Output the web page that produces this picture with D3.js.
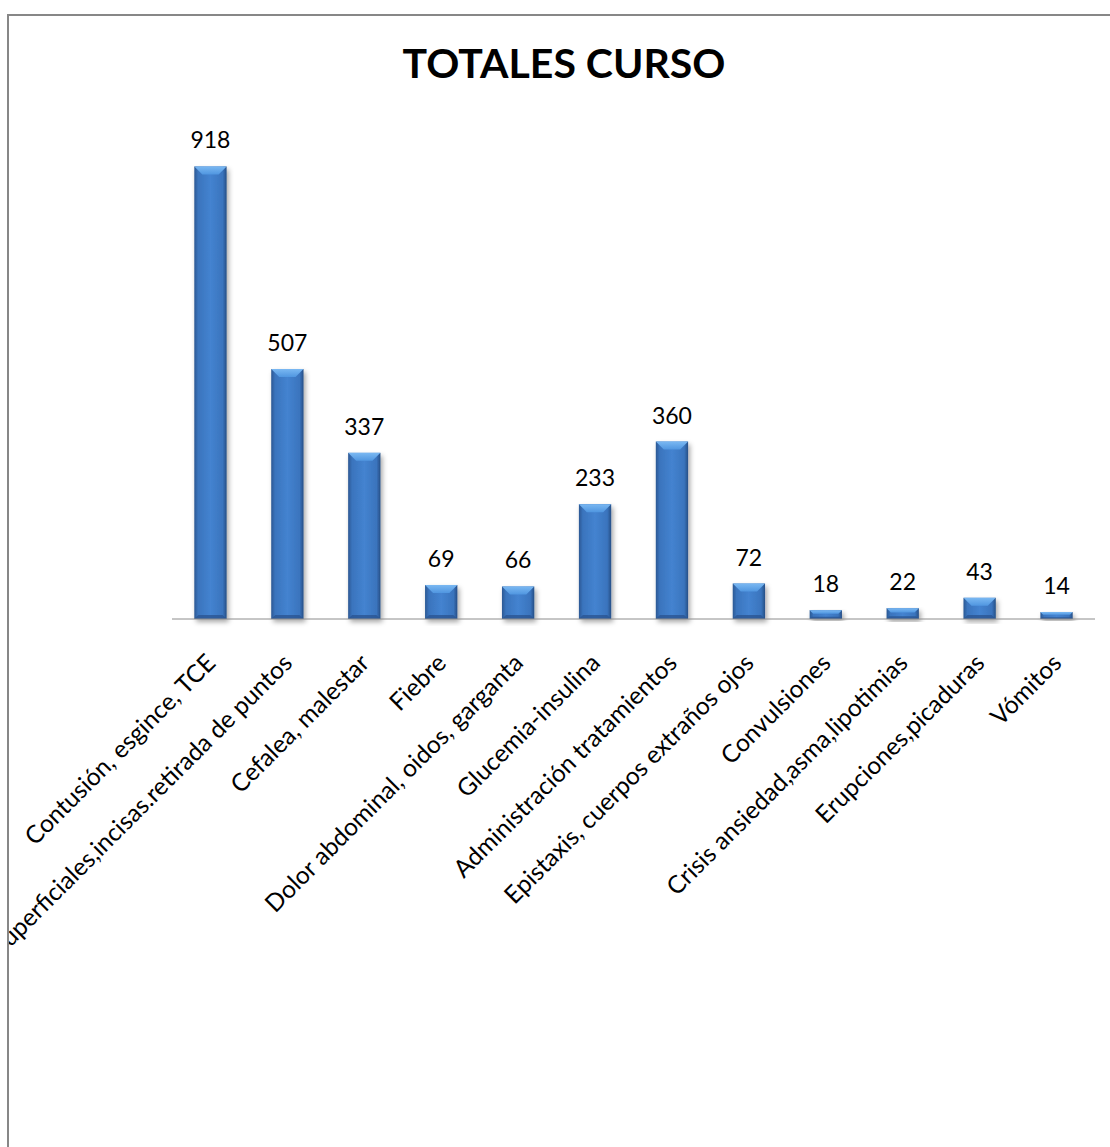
<!DOCTYPE html>
<html>
<head>
<meta charset="utf-8">
<script src="https://cdn.jsdelivr.net/npm/d3@7"></script>
<style>
  html, body { margin: 0; padding: 0; background: #fff; }
  svg { display: block; }
</style>
</head>
<body>
<svg id="chart"></svg>
<script>
// Data
const CATEGORIES = [
  'Contusión, esgince, TCE',
  'Heridas superficiales,incisas.retirada de puntos',
  'Cefalea, malestar',
  'Fiebre',
  'Dolor abdominal, oidos, garganta',
  'Glucemia-insulina',
  'Administración tratamientos',
  'Epistaxis, cuerpos extraños ojos',
  'Convulsiones',
  'Crisis ansiedad,asma,lipotimias',
  'Erupciones,picaduras',
  'Vómitos'
];
const VALUES = [918, 507, 337, 69, 66, 233, 360, 72, 18, 22, 43, 14];
const TITLE = 'TOTALES CURSO';

const W = 1110, H = 1147;
const FONT = 'Lato, "Open Sans", sans-serif';

const svg = d3.select('#chart').attr('width', W).attr('height', H);
const defs = svg.append('defs');

// frame clip
defs.append('clipPath').attr('id', 'frameClip')
  .append('rect').attr('x', 9).attr('y', 16).attr('width', W).attr('height', H);

// bar body gradient (left-right shading)
const body = defs.append('linearGradient').attr('id', 'barBody')
  .attr('x1', '0%').attr('x2', '100%').attr('y1', '0%').attr('y2', '0%');
[['0%', '#2b5893'], ['12%', '#3a74bd'], ['50%', '#4483d0'], ['88%', '#3a74bd'], ['100%', '#264f86']]
  .forEach(([o, c]) => body.append('stop').attr('offset', o).attr('stop-color', c));

const topG = defs.append('linearGradient').attr('id', 'barTop')
  .attr('x1', '0%').attr('x2', '0%').attr('y1', '0%').attr('y2', '100%');
[['0%', '#7ab8f2'], ['100%', '#5096e0']]
  .forEach(([o, c]) => topG.append('stop').attr('offset', o).attr('stop-color', c));

const shadow = defs.append('filter').attr('id', 'shadow')
  .attr('x', '-30%').attr('y', '-10%').attr('width', '160%').attr('height', '130%');
shadow.append('feDropShadow').attr('dx', 2).attr('dy', 3).attr('stdDeviation', 2.5)
  .attr('flood-color', '#000').attr('flood-opacity', 0.35);

// frame
svg.append('rect')
  .attr('x', 8).attr('y', 15).attr('width', W).attr('height', H)
  .attr('fill', '#fff').attr('stroke', '#878787').attr('stroke-width', 2);

const root = svg.append('g').attr('clip-path', 'url(#frameClip)');

// title
root.append('text')
  .attr('x', 564).attr('y', 78)
  .attr('text-anchor', 'middle')
  .attr('font-family', FONT).attr('font-weight', 'bold').attr('font-size', 41)
  .attr('fill', '#000')
  .text(TITLE);

// scales
const x = d3.scaleBand().domain(CATEGORIES).range([172, 1095])
  .paddingInner(0.58).paddingOuter(0.29);
const y = d3.scaleLinear().domain([0, 1000]).range([619, 126]);

// bars
const bars = root.append('g').selectAll('g.bar')
  .data(CATEGORIES.map((c, i) => ({ cat: c, val: VALUES[i] })))
  .join('g').attr('class', 'bar');

bars.append('rect')
  .attr('x', d => x(d.cat)).attr('y', d => y(d.val))
  .attr('width', x.bandwidth()).attr('height', d => y(0) - y(d.val))
  .attr('fill', 'url(#barBody)')
  .attr('filter', 'url(#shadow)');

// top bevel
bars.append('path')
  .attr('fill', 'url(#barTop)')
  .attr('d', d => {
    const x0 = x(d.cat), w = x.bandwidth(), t = y(d.val);
    const b = Math.min(8, (y(0) - t) * 0.4);
    return `M${x0},${t}L${x0 + w},${t}L${x0 + w - b},${t + b}L${x0 + b},${t + b}Z`;
  });

// bottom bevel
bars.append('path')
  .attr('fill', '#2a5592').attr('opacity', 0.8)
  .attr('d', d => {
    const x0 = x(d.cat), w = x.bandwidth(), t = y(d.val), base = y(0);
    const b = Math.min(4, (base - t) * 0.25);
    return `M${x0},${base}L${x0 + w},${base}L${x0 + w - b},${base - b}L${x0 + b},${base - b}Z`;
  });

// baseline
root.append('line')
  .attr('x1', 172).attr('x2', 1095).attr('y1', y(0)).attr('y2', y(0))
  .attr('stroke', '#8c8c8c').attr('stroke-width', 1);

// value labels
bars.append('text')
  .attr('x', d => x(d.cat) + x.bandwidth() / 2)
  .attr('y', d => y(d.val) - 18)
  .attr('text-anchor', 'middle')
  .attr('font-family', FONT).attr('font-size', 23).attr('fill', '#000')
  .text(d => d.val);

// category labels, rotated -45
root.append('g').selectAll('text')
  .data(CATEGORIES).join('text')
  .attr('transform', d => `translate(${x(d) + x.bandwidth() / 2 - 6},652) rotate(-45)`)
  .attr('text-anchor', 'end')
  .attr('dy', '0.72em')
  .attr('font-family', FONT).attr('font-size', 24.5).attr('fill', '#000')
  .text(d => d);
</script>
</body>
</html>
